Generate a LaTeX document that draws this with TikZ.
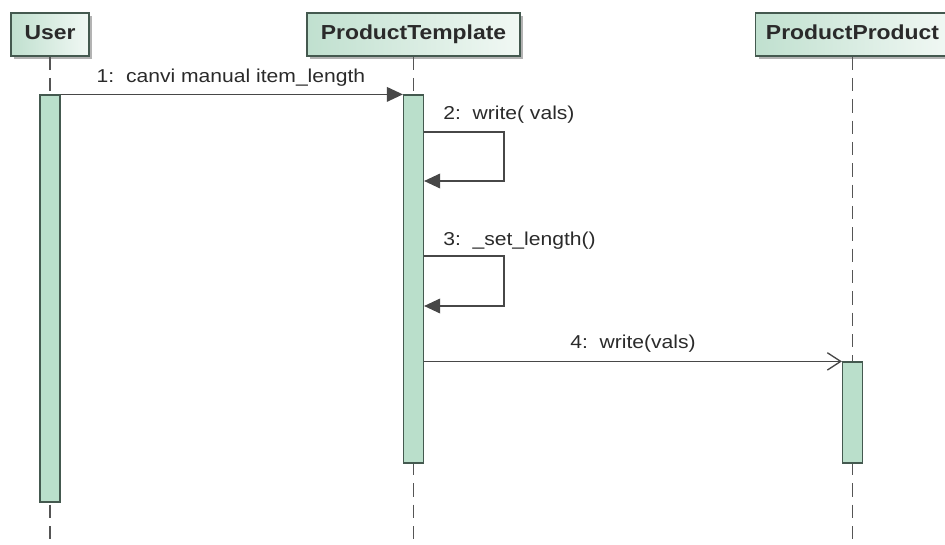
\documentclass[tikz,border=0pt]{standalone}
\usepackage{fontspec}
\usepackage{graphicx}
\setmainfont{Liberation Sans}
\usetikzlibrary{arrows.meta,shadows,calc}

% labels are set slightly wide
\newcommand\stretchtext[1]{\scalebox{1.13}[1]{#1}}

\definecolor{edgegreen}{HTML}{44594F}
\definecolor{actfill}{HTML}{BADFCB}
\definecolor{hdrleft}{HTML}{C0E0CF}
\definecolor{hdrright}{HTML}{F1F8F4}
\definecolor{msgline}{HTML}{474747}
\definecolor{lifegray}{HTML}{555555}
\definecolor{textgray}{HTML}{2A2A2A}

\tikzset{
  hdr/.style={draw=edgegreen, line width=1pt, left color=hdrleft, right color=hdrright,
    minimum height=32.25pt, inner sep=0pt, text=textgray,
    text height=12.5pt, text depth=4.25pt,
    font=\fontsize{15.2}{18}\selectfont\bfseries,
    drop shadow={shadow xshift=2.4pt, shadow yshift=-2.4pt, fill=black!50, opacity=0.6}},
  actbar/.style={draw=edgegreen, line width=0.9pt, fill=actfill, minimum width=15pt,
    inner sep=0pt},
  lifeline/.style={draw=lifegray, line width=1.1pt, dash pattern=on 10pt off 6pt},
  msg/.style={draw=msgline, line width=1pt},
  synctip/.style={-{Triangle[length=12pt,width=11pt]}, msgline},
  opentip/.style={-{Straight Barb[length=10pt,width=13pt,line width=1pt]}},
  msglabel/.style={text=textgray, font=\fontsize{14}{17}\selectfont, inner sep=0pt}
}

\begin{document}
\begin{tikzpicture}[x=0.75pt,y=-0.75pt]
\useasboundingbox (0,0) rectangle (945,545);
\clip (0,0) rectangle (945,545);

% lifeline heads
\node[hdr, minimum width=58.5pt]  (user) at (50,34.5)   {\stretchtext{User}};
\node[hdr, minimum width=159.75pt] (tmpl) at (413.5,34.5) {\stretchtext{ProductTemplate}};
\node[hdr, minimum width=145.5pt] (prod) at (852.5,34.5) {\stretchtext{ProductProduct}};

% lifelines
\coordinate (userend) at (50,548);
\coordinate (tmplend) at (413.5,548);
\coordinate (prodend) at (852.5,548);
\draw[lifeline] (user.south) -- (userend);
\draw[lifeline] (tmpl.south) -- (tmplend);
\draw[lifeline] (prod.south) -- (prodend);

% activation bars
\node[actbar, minimum height=305.25pt] (ua) at (50,298.5)    {};
\node[actbar, minimum height=276pt]    (ta) at (413.5,279)   {};
\node[actbar, minimum height=75.75pt]  (pa) at (852.5,412.5) {};

% 1: call from User to ProductTemplate
\draw[msg, synctip] (ua.north east) -- (ta.north west);
\node[msglabel] (l1) at (231,78) {\stretchtext{1:\ \ canvi manual item\_length}};

% 2: self call
\coordinate (s2top) at (504,132);
\coordinate (s2bot) at (504,181);
\draw[msg, synctip] (ta.east |- s2top) -- (s2top) -- (s2bot) -- (ta.east |- s2bot);
\node[msglabel, anchor=west] (l2) at (443,115) {\stretchtext{2:\ \ write( vals)}};

% 3: self call
\coordinate (s3top) at (504,256);
\coordinate (s3bot) at (504,306);
\draw[msg, synctip] (ta.east |- s3top) -- (s3top) -- (s3bot) -- (ta.east |- s3bot);
\node[msglabel, anchor=west] (l3) at (443,241) {\stretchtext{3:\ \ \_set\_length()}};

% 4: call from ProductTemplate to ProductProduct
\draw[msg, opentip] (ta.east |- pa.north) -- (pa.north west);
\node[msglabel] (l4) at (633,344) {\stretchtext{4:\ \ write(vals)}};
\end{tikzpicture}
\end{document}
